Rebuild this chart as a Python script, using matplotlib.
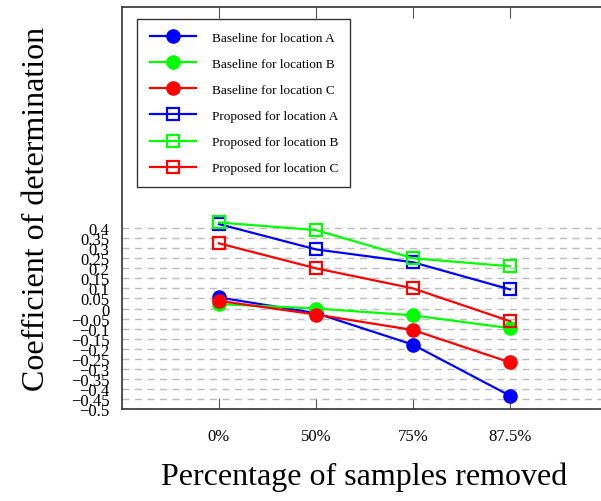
import matplotlib
matplotlib.use("Agg")
import matplotlib.pyplot as plt
import numpy as np

categories = ["0%", "50%", "75%", "87.5%"]
baseline_A = [0.055, -0.023, -0.18, -0.434]
baseline_B = [0.022, 0.0, -0.034, -0.098]
baseline_C = [0.038, -0.03, -0.107, -0.268]
proposed_A = [0.42, 0.294, 0.23, 0.095]
proposed_B = [0.428, 0.39, 0.25, 0.21]
proposed_C = [0.324, 0.2, 0.1, -0.063]
y_ticks = [-0.5, -0.45, -0.4, -0.35, -0.3, -0.25, -0.2, -0.15, -0.1, -0.05,
           0, 0.05, 0.1, 0.15, 0.2, 0.25, 0.3, 0.35, 0.4]
y_tick_labels = ["\u22120.5", "\u22120.45", "\u22120.4", "\u22120.35", "\u22120.3",
                 "\u22120.25", "\u22120.2", "\u22120.15", "\u22120.1", "\u22120.05",
                 "0", "0.05", "0.1", "0.15", "0.2", "0.25", "0.3", "0.35", "0.4"]

plt.rcParams['font.family'] = ['Liberation Serif', 'DejaVu Serif']

fig = plt.figure(figsize=(6.01, 5.02), dpi=100)
ax = fig.add_axes([122/601, 92/502, 485/601, 402/502])

x = np.arange(len(categories))
series = [
    (baseline_A, "blue", "o", "Baseline for location A"),
    (baseline_B, "#00ff00", "o", "Baseline for location B"),
    (baseline_C, "red", "o", "Baseline for location C"),
    (proposed_A, "blue", "s", "Proposed for location A"),
    (proposed_B, "#00ff00", "s", "Proposed for location B"),
    (proposed_C, "red", "s", "Proposed for location C"),
]
for vals, col, mk, lab in series:
    if mk == "o":
        ax.plot(x, vals, color=col, marker="o", markersize=9.5, lw=1.6, label=lab,
                clip_on=False, zorder=3)
    else:
        ax.plot(x, vals, color=col, marker="s", markersize=9, lw=1.6, label=lab,
                markerfacecolor="none", markeredgewidth=1.6, clip_on=False, zorder=3)

ax.set_xlim(-1, 4)
ax.set_ylim(-0.5, 1.5)
ax.set_yticks(y_ticks)
ax.set_yticklabels(y_tick_labels, fontsize=12)
ax.set_xticks(x)
ax.set_xticklabels(categories, fontsize=12)
ax.tick_params(axis='x', direction='in', length=8, top=True, width=0.8, color='#555555', pad=14)
ax.tick_params(axis='y', length=0, pad=9)
ax.yaxis.grid(True, linestyle=(0, (5, 4)), color='#bbbbbb', lw=1)
ax.set_axisbelow(True)
for s in ax.spines.values():
    s.set_linewidth(1.2)
    s.set_color('#333333')

ax.set_xlabel("Percentage of samples removed", fontsize=23, labelpad=12)
ax.set_ylabel("Coefficient of determination", fontsize=23, labelpad=14)

leg = ax.legend(loc='upper left', bbox_to_anchor=(15/485, 1 - 12/402), fontsize=9.5,
                fancybox=False, framealpha=1, edgecolor='#333333',
                handlelength=3.5, labelspacing=1.05, borderpad=0.95, handletextpad=1.2,
                borderaxespad=0)
leg.get_frame().set_linewidth(1.0)

fig.savefig("out.png", dpi=100)
